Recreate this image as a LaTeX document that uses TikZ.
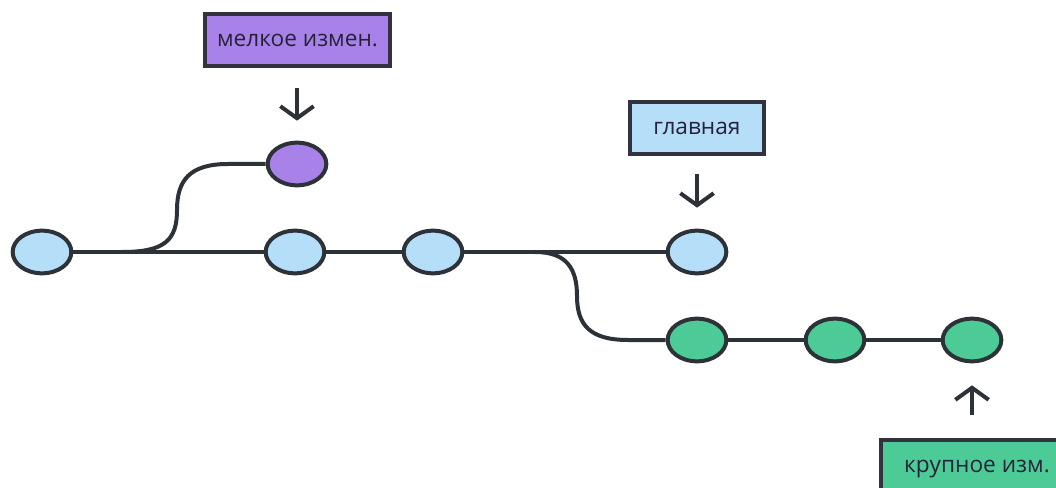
\documentclass[tikz,border=0pt]{standalone}
\usepackage{fontspec}
\setmainfont{Open Sans}
\usetikzlibrary{shapes.geometric,arrows.meta}

\tikzset{every picture/.style={line width=0.75pt}}
\tikzset{
  commit/.style={ellipse, draw={rgb, 255:red, 45; green, 50; blue, 56 }, line width=3pt, minimum width=44pt, minimum height=32pt, inner sep=0pt},
  maincommit/.style={commit, fill={rgb, 255:red, 181; green, 223; blue, 248 }},
  smallcommit/.style={commit, fill={rgb, 255:red, 168; green, 130; blue, 232 }},
  bigcommit/.style={commit, fill={rgb, 255:red, 76; green, 203; blue, 151 }},
  tag/.style={draw={rgb, 255:red, 52; green, 50; blue, 62 }, line width=3pt, minimum height=39pt, inner sep=0pt, text={rgb, 255:red, 38; green, 34; blue, 58 }, font=\fontsize{17}{19}\selectfont},
  branch/.style={draw={rgb, 255:red, 45; green, 50; blue, 56 }, line width=3pt},
  pointer/.style={draw={rgb, 255:red, 45; green, 50; blue, 56 }, line width=3pt, -{Straight Barb[length=9pt,width=25pt]}}
}

\begin{document}
\begin{tikzpicture}[x=0.75pt,y=0.75pt,yscale=-1,xscale=1]
\clip (0,0) rectangle (1056,488);

%Shape: Ellipse commits
\node [maincommit] (c1) at (42,252) {};
\node [maincommit] (c2) at (295,252) {};
\node [maincommit] (c3) at (433,252) {};
\node [maincommit] (c4) at (697,252) {};
\node [smallcommit] (s1) at (297,164) {};
\node [bigcommit] (g1) at (697,340) {};
\node [bigcommit] (g2) at (835,340) {};
\node [bigcommit] (g3) at (972,340) {};

\coordinate (fork1) at (122,252);
\coordinate (fork2) at (535,252);

%Straight Lines
\draw [branch] (c1) -- (c2) -- (c3) -- (c4) ;
\draw [branch] (g1) -- (g2) -- (g3) ;
%Curve Lines
\draw [branch] (fork1) .. controls (165,252) and (177,240) .. (177,210) .. controls (177,180) and (190,164) .. (228,164) -- (s1.west) ;
\draw [branch] (fork2) .. controls (566,252) and (577,268) .. (577,296) .. controls (577,325) and (590,340) .. (628,340) -- (g1.west) ;

% Text Node
\node [tag, minimum width=139pt, fill={rgb, 255:red, 168; green, 130; blue, 232 }] (smalltag) at (297.5,40.5) {мелкое измен.};
% Text Node
\node [tag, minimum width=100.5pt, fill={rgb, 255:red, 181; green, 223; blue, 248 }] (maintag) at (697,128.5) {главная};
% Text Node
\node [tag, minimum width=144pt, minimum height=44pt, fill={rgb, 255:red, 76; green, 203; blue, 151 }] (bigtag) at (977,469) {крупное изм.};

%Arrows
\draw [pointer, shorten <=15pt, shorten >=15pt] (s1 |- smalltag.south) -- (s1.north) ;
\draw [pointer, shorten <=13.5pt, shorten >=15.75pt] (c4 |- maintag.south) -- (c4.north) ;
\draw [pointer, shorten <=17pt, shorten >=16.5pt] (g3 |- bigtag.north) -- (g3.south) ;

\end{tikzpicture}
\end{document}
